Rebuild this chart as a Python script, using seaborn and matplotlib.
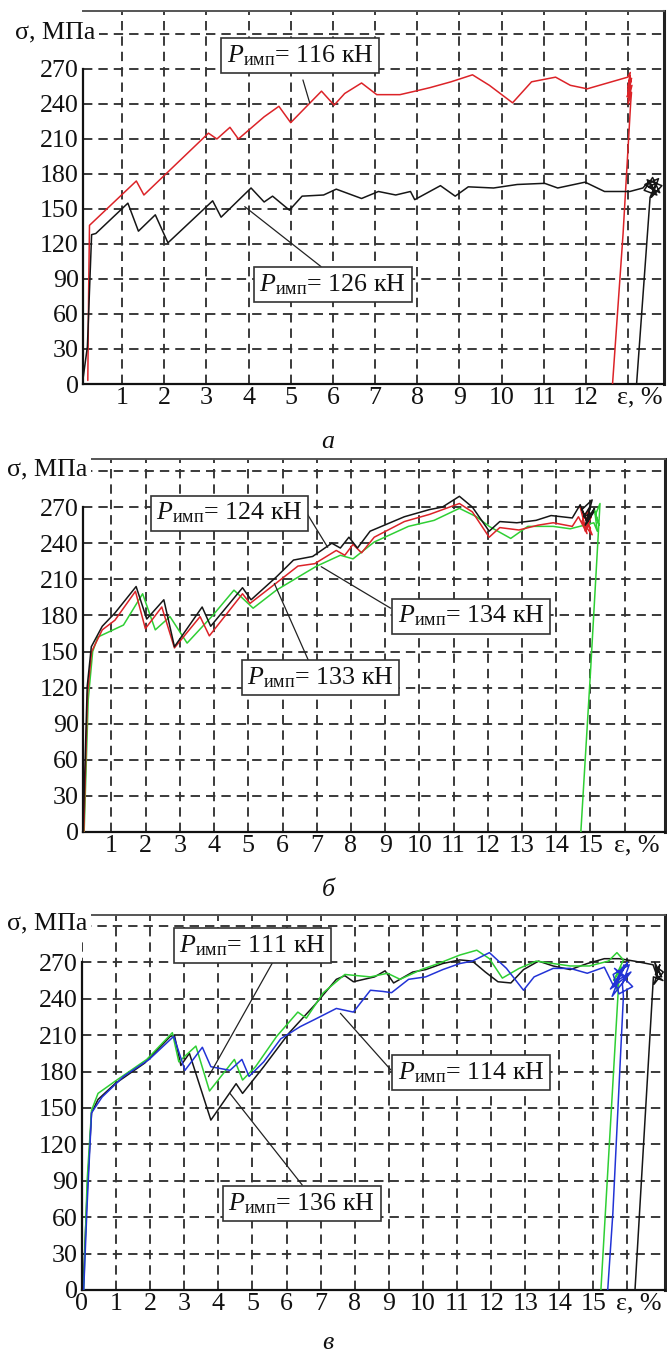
import matplotlib
matplotlib.use("Agg")
import matplotlib.pyplot as plt
import seaborn as sns

sns.set_theme(style="white")
plt.rcParams['font.family'] = ['Liberation Serif', 'DejaVu Serif']
plt.rcParams['mathtext.fontset'] = 'custom'
plt.rcParams['mathtext.rm'] = 'Liberation Serif'
plt.rcParams['mathtext.it'] = 'Liberation Serif:italic'

# ---------------- data ----------------
# panel a
a_red_x = [0.19, 0.21, 0.23, 1.34, 1.52, 3.05, 3.25, 3.56, 3.76, 4.37, 4.72, 5.0, 5.73, 6.03, 6.28,
           6.68, 7.04, 7.59, 7.95, 8.30, 8.80, 9.31, 9.71, 10.26, 10.71, 11.28, 11.63, 12.03, 12.99,
           13.05, 13.0, 13.08, 12.98, 13.06, 13.01, 13.09, 12.99, 13.05, 13.0, 13.08, 13.06,
           12.88, 12.63]
a_red_y = [3, 80, 136, 174, 162, 215, 210, 220, 210, 229, 238, 224, 251, 239, 249,
           258, 248, 248, 251, 254, 259, 265, 256, 241, 259, 263, 256, 253, 263,
           267, 255, 262, 246, 260, 244, 256, 252, 264, 240, 250, 241,
           129, 0]
a_blk_x = [0.06, 0.18, 0.28, 0.38, 1.14, 1.39, 1.79, 2.09, 3.15, 3.35, 4.06, 4.37, 4.57, 4.97, 5.27,
           5.78, 6.08, 6.68, 7.08, 7.49, 7.84, 7.94, 8.55, 8.90, 9.21, 9.81, 10.37, 11.02, 11.33,
           11.98, 12.44, 13.04, 13.35, 13.5, 13.62, 13.4, 13.72, 13.55, 13.8, 13.45, 13.68, 13.38,
           13.58, 13.75, 13.48, 13.66, 13.52, 13.2]
a_blk_y = [0, 32, 128, 129, 155, 131, 145, 121, 157, 143, 168, 156, 161, 149, 161,
           162, 167, 159, 165, 162, 165, 158, 170, 161, 169, 168, 171, 172, 168,
           173, 165, 165, 168, 174, 166, 171, 176, 160, 170, 175, 162, 166,
           177, 164, 169, 172, 160, 0]

# panel b
b_blk_x = [0.17, 0.29, 0.41, 0.73, 1.10, 1.72, 2.03, 2.53, 2.84, 3.65, 3.90, 4.83, 5.08, 5.82, 6.32,
           6.88, 7.44, 7.69, 7.94, 8.19, 8.56, 9.56, 10.30, 10.67, 11.17, 11.55, 12.04, 12.35, 12.85,
           13.41, 13.85, 14.16, 14.47, 14.7, 14.9, 14.75, 15.05, 14.85, 15.1, 14.8, 15.0, 14.9,
           15.12, 14.95]
b_blk_y = [0, 121, 154, 171, 182, 204, 177, 193, 154, 187, 171, 203, 193, 212, 226,
           229, 240, 236, 245, 236, 250, 262, 268, 270, 279, 270, 250, 258, 257,
           259, 263, 262, 261, 272, 258, 268, 276, 255, 266, 262, 271, 257,
           269, 262]
b_red_x = [0.19, 0.30, 0.42, 0.73, 1.10, 1.70, 1.99, 2.47, 2.84, 3.59, 3.86, 4.83, 5.05, 5.82, 6.45,
           6.94, 7.57, 7.82, 8.06, 8.31, 8.68, 9.56, 10.30, 11.17, 11.55, 12.04, 12.35, 12.91,
           13.47, 13.91, 14.47, 14.65, 14.9, 14.7, 15.0, 14.8, 15.05, 14.75, 14.95, 14.85, 15.02,
           14.9]
b_red_y = [0, 115, 150, 168, 176, 200, 169, 187, 153, 179, 163, 198, 190, 207, 221,
           223, 234, 230, 239, 232, 245, 258, 264, 273, 266, 245, 253, 251,
           255, 257, 254, 262, 248, 270, 252, 265, 247, 258, 268, 250, 262,
           256]
b_grn_x = [0.20, 0.32, 0.45, 0.60, 1.35, 1.91, 2.28, 2.71, 3.21, 3.96, 4.58, 5.14, 5.82, 6.70, 7.0,
           7.69, 8.06, 8.68, 9.68, 10.43, 11.17, 11.67, 12.04, 12.67, 13.17, 13.91, 14.41, 15.1,
           15.2, 15.12, 15.25, 15.15, 15.28, 15.0, 14.72]
b_grn_y = [0, 110, 150, 162, 172, 198, 168, 179, 157, 180, 201, 186, 201, 216, 221,
           230, 227, 241, 254, 259, 269, 262, 254, 244, 254, 254, 252, 257,
           250, 268, 255, 264, 273, 132, 0]

# panel c
c_blk_x = [0.03, 0.15, 0.28, 0.47, 0.97, 1.84, 2.59, 2.71, 2.9, 3.15, 3.78, 4.52, 4.71, 5.33, 6.08,
           6.83, 7.46, 7.71, 7.96, 8.58, 8.89, 9.14, 9.7, 10.08, 10.58, 11.08, 11.45, 11.83, 12.2,
           12.58, 12.95, 13.39, 13.82, 14.32, 14.82, 15.32, 15.76, 16.2, 16.75, 16.9, 16.8, 17.0,
           16.85, 17.05, 16.78, 16.95, 16.82, 17.04, 16.76, 16.22]
c_blk_y = [0, 80, 146, 157, 170, 187, 209, 210, 185, 195, 140, 170, 162, 184, 212,
           235, 256, 259, 254, 258, 263, 253, 262, 264, 269, 272, 271, 262, 254,
           253, 264, 271, 267, 264, 269, 273, 273, 271, 268, 256, 270, 258,
           266, 262, 252, 268, 260, 255, 258, 0]
c_grn_x = [0.05, 0.15, 0.28, 0.47, 0.97, 1.9, 2.65, 2.84, 3.34, 3.74, 4.47, 4.71, 5.09, 5.71, 6.33,
           6.58, 7.08, 7.71, 8.46, 8.96, 9.33, 9.95, 10.45, 11.08, 11.58, 11.95, 12.33, 12.82,
           13.32, 13.82, 14.32, 14.88, 15.44, 15.69, 15.88, 15.6, 15.82, 15.66, 15.76, 15.22]
c_grn_y = [0, 90, 148, 162, 172, 190, 212, 188, 201, 164, 190, 173, 184, 209, 229,
           224, 245, 260, 258, 261, 256, 264, 269, 276, 280, 273, 257, 265,
           271, 269, 267, 267, 271, 278, 272, 255, 266, 248, 262, 0]
c_blu_x = [0.05, 0.15, 0.28, 0.59, 1.22, 1.97, 2.69, 3.02, 3.53, 3.78, 4.34, 4.69, 4.9, 5.33, 5.83,
           6.4, 6.83, 7.46, 7.96, 8.46, 8.83, 9.08, 9.58, 10.08, 10.58, 11.08, 11.45, 11.95, 12.45,
           12.95, 13.26, 13.82, 14.32, 14.82, 15.32, 15.6, 15.9, 15.55, 16.1, 15.7, 16.0, 15.5,
           15.95, 15.62, 16.15, 15.75, 15.58, 16.05, 15.85, 15.88, 15.57, 15.42]
c_blu_y = [0, 70, 146, 159, 176, 190, 209, 181, 200, 184, 181, 190, 176, 188, 207,
           217, 223, 232, 229, 247, 246, 245, 256, 258, 264, 269, 271, 278, 265,
           247, 258, 265, 265, 261, 266, 250, 268, 242, 262, 255, 270, 248,
           258, 265, 250, 244, 260, 268, 252, 242, 63, 0]

y_ticks = [0, 30, 60, 90, 120, 150, 180, 210, 240, 270, 300]
y_ticklabels = ['0', '30', '60', '90', '120', '150', '180', '210', '240', '270', '']
a_xticks = list(range(1, 14))
a_xticklabels = [str(i) for i in range(1, 13)] + ['']
b_xticks = list(range(1, 17))
b_xticklabels = [str(i) for i in range(1, 16)] + ['']
c_xticks = list(range(0, 17))
c_xticklabels = [str(i) for i in range(0, 16)] + ['']

a_loads = ['116', '126']
b_loads = ['124', '134', '133']
c_loads = ['111', '114', '136']

RED = '#dc2328'
BLK = '#161616'
GRN = '#2fcf34'
BLU = '#2233d6'
FS = 18.7

fig = plt.figure(figsize=(6.67, 13.54), dpi=100)
W, H = 667.0, 1354.0


def make_ax(left, right, top, bottom):
    return fig.add_axes([left / W, 1 - bottom / H, (right - left) / W, (bottom - top) / H])


def style(ax, xlim, ylim, xticks, xticklabels, eps_x, sig_off):
    ax.set_xlim(*xlim)
    ax.set_ylim(*ylim)
    ax.set_xticks(xticks)
    ax.set_xticklabels(xticklabels)
    ax.set_yticks(y_ticks)
    ax.set_yticklabels(y_ticklabels)
    ax.grid(True, linestyle=(0, (5, 3.2)), color='#333333', linewidth=1.35)
    ax.set_axisbelow(True)
    ax.tick_params(axis='both', direction='in', length=4, width=1.2, color='#222',
                   labelcolor='#111', labelsize=FS)
    ax.tick_params(axis='x', pad=2)
    ax.tick_params(axis='y', pad=3)
    ax.set_xlabel('')
    ax.set_ylabel('')
    for s in ['left', 'bottom']:
        ax.spines[s].set_color('#111')
        ax.spines[s].set_linewidth(1.6)
    ax.spines['top'].set_color('#555')
    ax.spines['top'].set_linewidth(1.4)
    ax.spines['right'].set_color('#222')
    ax.spines['right'].set_linewidth(2.2)
    ax.spines['left'].set_bounds(0, 270)
    ax.annotate('ε, %', xy=(eps_x, 0), xycoords='data', xytext=(-8, -2),
                textcoords='offset points', ha='left', va='top', fontsize=FS,
                color='#111', annotation_clip=False)
    ax.annotate('σ, МПа', xy=(0, 300), xycoords=('axes fraction', 'data'),
                xytext=(sig_off, 2), textcoords='offset pixels', ha='right', va='center',
                fontsize=FS, color='#111', annotation_clip=False, zorder=6,
                bbox=dict(boxstyle='square,pad=0.15', fc='white', ec='none'))


def curve(ax, xs, ys, color):
    sns.lineplot(x=xs, y=ys, sort=False, estimator=None, color=color, linewidth=1.1,
                 ax=ax, legend=False, zorder=3)


def label(ax, load, xy, p0, p1):
    ax.plot([p0[0], p1[0]], [p0[1], p1[1]], color='#222', lw=0.9, zorder=4)
    ax.text(xy[0], xy[1], r'$\mathit{P}_{\mathrm{имп}}$= ' + load + ' кН', ha='center',
            va='center', fontsize=FS, color='#111', zorder=7,
            bbox=dict(boxstyle='square,pad=0.2', fc='white', ec='#333', lw=1.2))


# ---------- panel a ----------
ax_a = make_ax(83, 664, 11, 384)
curve(ax_a, a_red_x, a_red_y, RED)
curve(ax_a, a_blk_x, a_blk_y, BLK)
style(ax_a, (0.076, 13.85), (0, 319.7), a_xticks, a_xticklabels, 13, 12)
label(ax_a, a_loads[0], (5.22, 281.6), (5.29, 260.6), (5.45, 241))
label(ax_a, a_loads[1], (6.0, 84.9), (5.72, 100.6), (3.91, 152))

# ---------- panel b ----------
ax_b = make_ax(83, 665, 459, 832)
curve(ax_b, b_grn_x, b_grn_y, GRN)
curve(ax_b, b_red_x, b_red_y, RED)
curve(ax_b, b_blk_x, b_blk_y, BLK)
style(ax_b, (0.167, 17.18), (0, 310), b_xticks, b_xticklabels, 16, 4)
label(ax_b, b_loads[0], (4.46, 265.1), (6.73, 264), (7.32, 236.6))
label(ax_b, b_loads[1], (11.51, 179.5), (9.16, 186), (7.13, 220.5))
label(ax_b, b_loads[2], (7.11, 128), (6.76, 142.4), (5.76, 206.6))

# ---------- panel c ----------
ax_c = make_ax(82, 665, 915, 1290)
curve(ax_c, c_blk_x, c_blk_y, BLK)
curve(ax_c, c_grn_x, c_grn_y, GRN)
curve(ax_c, c_blu_x, c_blu_y, BLU)
style(ax_c, (0.0, 17.1), (0, 309), c_xticks, c_xticklabels, 16, 5)
label(ax_c, c_loads[0], (5.01, 283.5), (5.59, 269.8), (3.71, 175.8))
label(ax_c, c_loads[1], (11.41, 179.3), (9.06, 181.3), (7.58, 228))
label(ax_c, c_loads[2], (6.45, 70.9), (6.46, 86.5), (4.34, 162))

# ---------- captions ----------
for ch, yy in [('а', 442), ('б', 890), ('в', 1343)]:
    fig.text(328 / W, 1 - yy / H, ch, ha='center', va='center', fontsize=FS,
             style='italic', color='#111')

fig.savefig('out.png', dpi=100)
